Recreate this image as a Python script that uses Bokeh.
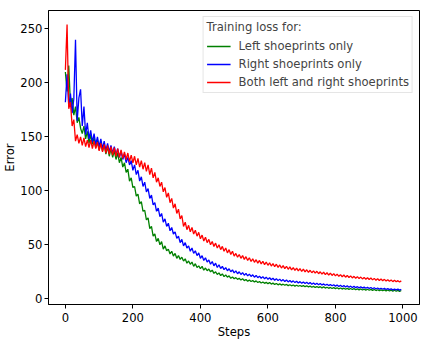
from bokeh.plotting import figure
from bokeh.models import Range1d, Legend, LegendItem, FixedTicker, ColumnDataSource
from bokeh.embed import file_html
from bokeh.resources import INLINE

steps = list(range(0, 1000, 5))

left_only = [
    210, 192, 216, 180, 186, 170, 178, 163, 168, 158,
    153, 160, 148, 155, 144, 152, 143, 149, 140, 147,
    138, 145, 137, 143, 134, 141, 132, 139, 131, 137,
    129, 135, 126, 131, 122, 126, 117, 120, 109, 112,
    103, 104, 95, 97, 88, 90, 81, 82, 73, 75,
    65, 67, 58, 60, 53, 56, 50, 53, 46, 49,
    44.5, 46, 41.5, 44, 39.5, 42, 37.5, 40, 36.5, 38.5,
    35, 37, 33, 35, 32, 34, 30, 32.5, 29, 30.5,
    28, 30, 26.5, 28.5, 26, 27.5, 25, 26.5, 23.5, 25,
    22.5, 24, 21.5, 23, 20.5, 22, 20, 21.3, 19, 20.2,
    18.5, 19.6, 18, 19, 17.3, 18.5, 16.8, 17.8, 16.3, 17.3,
    16, 17, 15.5, 16.6, 15.1, 16, 14.6, 15.6, 14.3, 15.2,
    14, 15, 13.6, 14.5, 13.3, 14.2, 12.9, 13.8, 12.7, 13.5,
    12.5, 13.3, 12.2, 13, 12, 12.8, 11.7, 12.5, 11.6, 12.3,
    11.5, 12.2, 11.2, 12, 11, 11.7, 10.7, 11.5, 10.5, 11.3,
    10.4, 11.2, 10.1, 11, 9.9, 10.7, 9.7, 10.5, 9.5, 10.3,
    9.4, 10.2, 9.2, 10, 9, 9.8, 8.8, 9.6, 8.7, 9.5,
    8.6, 9.4, 8.4, 9.2, 8.3, 9.1, 8.1, 8.9, 8, 8.8,
    7.9, 8.7, 7.8, 8.6, 7.6, 8.4, 7.5, 8.3, 7.4, 8.2,
    7.3, 8.1, 7.2, 8, 7.1, 7.9, 7, 7.8, 6.9, 7.7,
]

right_only = [
    182, 208, 178, 190, 172, 185, 240, 165, 186, 194,
    160, 178, 152, 163, 148, 156, 145, 153, 143, 150,
    141, 148, 139, 146, 137, 144, 136, 142, 135, 141,
    133, 139, 131, 137, 129, 134, 126, 131, 124, 128,
    119, 124, 115, 119, 109, 113, 104, 108, 99, 102,
    93, 96, 87, 89, 81, 84, 76, 79, 71, 74,
    67, 70, 63, 66, 60, 62, 56, 58, 52, 55,
    49, 52, 47, 49, 44, 47, 42, 44.5, 40, 42.5,
    37.5, 40, 35.5, 38, 34, 36, 32, 34.5, 30.5, 33,
    29, 31.5, 28, 30, 27, 28.8, 26, 27.8, 25, 26.8,
    24, 25.8, 23.2, 25, 22.5, 24.2, 21.8, 23.5, 21.2, 22.8,
    20.7, 22.2, 20, 21.6, 19.5, 21, 19, 20.5, 18.5, 20,
    18, 19.5, 17.6, 19, 17.2, 18.6, 16.8, 18.2, 16.4, 17.8,
    16, 17.4, 15.6, 17, 15.3, 16.6, 15, 16.2, 14.7, 15.9,
    14.4, 15.6, 14.1, 15.3, 13.8, 15, 13.5, 14.7, 13.2, 14.4,
    13, 14.1, 12.7, 13.8, 12.5, 13.5, 12.2, 13.2, 12, 13,
    11.7, 12.8, 11.4, 12.5, 11.2, 12.2, 10.9, 12, 10.7, 11.7,
    10.5, 11.5, 10.3, 11.2, 10.1, 11, 9.9, 10.8, 9.7, 10.6,
    9.5, 10.4, 9.3, 10.2, 9.1, 10, 8.9, 9.8, 8.8, 9.6,
    8.6, 9.4, 8.5, 9.2, 8.3, 9, 8.2, 8.9, 8, 8.7,
]

both = [
    212, 254, 176, 182, 160, 166, 146, 152, 144, 150,
    142, 149, 141, 147, 140, 147, 139, 146, 139, 145,
    137, 144, 136, 143, 135, 142, 134, 141, 133, 140,
    132, 139, 131, 138, 130, 136, 129, 135, 127, 133,
    126, 132, 124, 130, 122, 128, 120, 126, 118, 124,
    115, 121, 112, 117, 108, 112, 104, 108, 99, 103,
    94, 98, 89, 93, 84, 88, 79, 83, 74, 77,
    67, 71, 64, 68, 62, 66, 60, 63.5, 58, 61.5,
    55.5, 59, 53.5, 57, 52, 55, 50, 53, 48.5, 51.5,
    47, 50, 45.5, 48.5, 44, 47, 42.5, 45.5, 41, 44,
    39.5, 42, 38.5, 41, 37.5, 40, 36.5, 39, 35.5, 38,
    34.5, 37, 33.8, 36.2, 33, 35.5, 32.3, 34.7, 31.6, 34,
    31, 33.3, 30.3, 32.6, 29.7, 32, 29.1, 31.3, 28.5, 30.7,
    27.9, 30.1, 27.3, 29.5, 26.8, 28.9, 26.3, 28.4, 25.8, 27.9,
    25.3, 27.4, 24.9, 26.9, 24.5, 26.4, 24.1, 25.9, 23.7, 25.5,
    23.2, 25, 22.8, 24.6, 22.4, 24.1, 22, 23.7, 21.6, 23.3,
    21.2, 22.8, 20.8, 22.4, 20.4, 22, 20, 21.6, 19.7, 21.2,
    19.3, 20.8, 19, 20.5, 18.7, 20.1, 18.4, 19.8, 18.1, 19.5,
    17.8, 19.2, 17.5, 18.9, 17.2, 18.6, 16.9, 18.3, 16.7, 18,
    16.4, 17.7, 16.2, 17.4, 15.9, 17.1, 15.7, 16.8, 15.5, 16.6,
]

x_ticks = [0, 200, 400, 600, 800, 1000]
y_ticks = [0, 50, 100, 150, 200, 250]
legend_title = "Training loss for:"
series_labels = ["Left shoeprints only", "Right shoeprints only", "Both left and right shoeprints"]
colors = ["#008000", "#0000ff", "#ff0000"]

FONT = "DejaVu Sans"
FS = "11.6px"

p = figure(frame_width=371, frame_height=294, x_range=Range1d(-50, 1049), y_range=Range1d(-5.3, 267),
           output_backend="svg", toolbar_location=None,
           min_border_left=41, min_border_right=1, min_border_top=10, min_border_bottom=26)

p.grid.visible = False
p.outline_line_color = "black"
p.outline_line_width = 1
p.background_fill_color = "white"
p.border_fill_color = "white"

src = ColumnDataSource(dict(x=steps, g=left_only, b=right_only, r=both))
renderers = []
for col, c in zip(["g", "b", "r"], colors):
    renderers.append(p.line("x", col, source=src, line_color=c, line_width=1.3))

p.xaxis.axis_label = "Steps"
p.yaxis.axis_label = "Error"
p.xaxis.ticker = FixedTicker(ticks=x_ticks)
p.yaxis.ticker = FixedTicker(ticks=y_ticks)
for ax in (p.xaxis[0], p.yaxis[0]):
    ax.major_label_text_font = FONT
    ax.major_label_text_font_size = FS
    ax.major_label_text_color = "black"
    ax.axis_label_text_font = FONT
    ax.axis_label_text_font_size = FS
    ax.axis_label_text_font_style = "normal"
    ax.axis_label_text_color = "black"
    ax.minor_tick_line_color = None
    ax.major_tick_in = 0
    ax.major_tick_out = 4
    ax.major_tick_line_color = "black"
    ax.axis_line_color = "black"
    ax.major_label_standoff = 2
    ax.axis_label_standoff = 0
p.xaxis[0].major_label_standoff = 4

legend = Legend(items=[LegendItem(label=l, renderers=[r]) for l, r in zip(series_labels, renderers)],
                location="top_right", title=legend_title)
legend.title_text_font = FONT
legend.title_text_font_size = FS
legend.title_text_font_style = "normal"
legend.title_standoff = 5
legend.label_text_font = FONT
legend.label_text_font_size = FS
legend.glyph_width = 24
legend.glyph_height = 14
legend.label_height = 14
legend.label_standoff = 8
legend.spacing = 4
legend.padding = 3
legend.margin = 6
legend.border_line_color = "#cccccc"
legend.border_line_width = 1
legend.background_fill_alpha = 0.8
p.add_layout(legend)

open("out.html", "w").write(file_html(p, INLINE))
